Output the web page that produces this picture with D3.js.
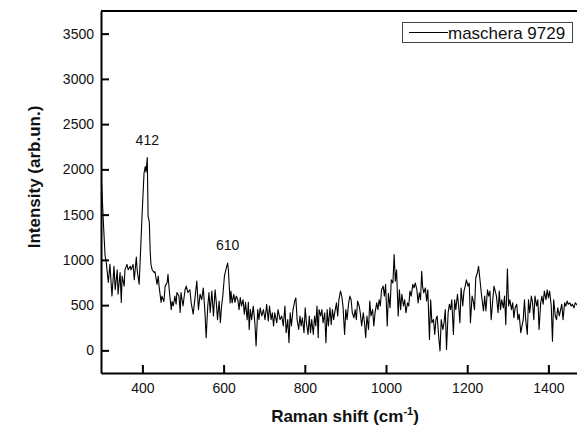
<!DOCTYPE html>
<html>
<head>
<meta charset="utf-8">
<script src="https://cdn.jsdelivr.net/npm/d3@7/dist/d3.min.js"></script>
<style>
  html, body { margin: 0; padding: 0; background: #fff; overflow: hidden; }
  svg { display: block; font-family: "Liberation Sans", Arial, sans-serif; }
</style>
</head>
<body>
<svg id="chart" width="577" height="427"></svg>
<script>
// Raman spectrum, sample "maschera 9729"
const seriesName = "maschera 9729";

const shift = [
  298,300,304,308,311,316,320,325,330,333,338,340,345,348,350,355,357,362,365,370,
  372,377,380,385,387,392,397,399,404,407,409,412,414,417,419,421,424,429,431,436,
  439,441,446,448,453,456,461,463,466,471,473,476,480,483,485,490,493,495,500,505,
  508,512,517,520,525,530,534,538,542,546,550,554,557,561,564,567,571,575,579,582,
  585,589,592,595,598,602,606,610,612,614,616,618,621,625,628,631,635,638,641,644,
  648,651,654,658,661,663,666,669,673,677,680,684,687,690,694,698,702,706,710,713,
  717,720,723,726,731,734,739,743,747,751,754,758,761,764,767,771,776,778,781,785,
  788,791,794,798,801,804,808,811,814,817,821,824,827,830,833,835,839,842,845,849,
  852,855,858,862,865,868,871,875,878,881,884,888,891,894,898,901,904,908,911,914,
  917,921,924,927,930,934,937,940,944,947,950,953,957,960,963,967,970,973,977,980,
  983,986,989,993,996,999,1003,1006,1010,1013,1017,1020,1023,1026,1030,1033,1036,1039,1043,1046,
  1049,1053,1056,1059,1062,1066,1069,1072,1076,1079,1082,1085,1088,1090,1093,1097,1100,1103,1107,1110,
  1113,1117,1120,1123,1126,1130,1133,1136,1140,1143,1146,1149,1153,1156,1159,1162,1166,1169,1172,1176,
  1179,1182,1185,1189,1192,1195,1198,1202,1205,1208,1212,1215,1218,1221,1225,1228,1231,1235,1240,1243,
  1246,1250,1253,1256,1259,1263,1266,1269,1272,1276,1279,1282,1285,1289,1292,1295,1299,1302,1305,1309,
  1312,1315,1318,1322,1325,1328,1332,1335,1338,1341,1344,1348,1351,1354,1358,1361,1364,1367,1371,1374,
  1377,1381,1384,1387,1390,1394,1397,1400,1403,1407,1410,1413,1417,1420,1423,1427,1430,1433,1436,1440,
  1443,1446,1449,1453,1456,1459,1463,1466,1469,1473,1477
];

const intensity = [
  1950,1800,1400,1050,970,750,950,600,930,670,890,620,860,530,820,710,890,950,890,930,
  890,950,780,1030,890,730,1260,1480,1960,2030,1970,2130,1480,1420,1110,950,890,860,870,730,
  820,710,530,600,540,710,750,840,670,450,540,490,600,510,640,600,420,640,490,670,
  710,640,670,530,400,600,765,450,620,560,690,420,140,490,640,420,655,380,670,530,
  340,545,305,490,600,820,900,965,875,700,525,655,525,620,530,600,560,450,585,490,
  560,400,530,340,530,230,450,340,490,305,50,450,340,470,380,450,340,510,325,490,
  340,415,270,415,305,450,340,380,270,490,195,340,85,415,270,450,560,580,340,230,
  380,270,360,195,470,305,175,380,195,340,175,380,270,490,140,450,380,450,305,415,
  85,450,270,470,285,450,340,450,525,380,560,655,600,490,175,450,340,525,600,560,
  415,360,450,340,545,490,400,270,415,305,140,380,230,545,380,450,270,415,525,450,
  560,490,670,710,600,730,270,630,470,780,745,1060,765,890,380,670,450,620,490,560,
  415,525,490,655,600,730,690,745,670,525,635,560,875,710,635,690,545,670,120,560,
  305,340,175,340,380,140,-5,340,230,305,450,10,415,510,450,560,175,560,450,620,
  490,305,690,490,655,710,780,710,745,305,600,545,450,800,855,930,800,620,435,600,
  435,670,600,655,340,560,710,655,600,415,655,450,560,470,600,285,900,490,560,450,
  525,360,470,510,340,400,195,270,340,560,340,175,560,415,600,525,340,600,490,560,
  230,525,600,510,655,560,670,580,655,490,100,560,380,340,470,380,450,510,340,525,
  490,545,510,525,490,510,470,525,510,490,505
];

// Axis ticks
const xTicks = [400, 600, 800, 1000, 1200, 1400];
const yTicks = [0, 500, 1000, 1500, 2000, 2500, 3000, 3500];

// Annotated band positions (cm-1) and their intensities
const peakShift = [412, 610];
const peakIntensity = [2130, 965];

const data = shift.map((s, i) => ({ s, v: intensity[i] }));

const svg = d3.select("#chart");
const plot = { left: 101, right: 589, top: 11, bottom: 373 };

const x = d3.scaleLinear().domain([298, 1500]).range([plot.left, plot.right]);
const y = d3.scaleLinear().domain([-250, 3750]).range([plot.bottom, plot.top]);

svg.append("defs").append("clipPath").attr("id", "plotclip")
  .append("rect")
  .attr("x", plot.left).attr("y", plot.top)
  .attr("width", plot.right - plot.left).attr("height", plot.bottom - plot.top);

// spectrum trace
svg.append("path")
  .datum(data)
  .attr("clip-path", "url(#plotclip)")
  .attr("fill", "none")
  .attr("stroke", "#000")
  .attr("stroke-width", 1.1)
  .attr("stroke-linejoin", "round")
  .attr("d", d3.line().x(d => x(d.s)).y(d => y(d.v)));

// frame: top and right edges
svg.append("path")
  .attr("fill", "none").attr("stroke", "#000").attr("stroke-width", 2)
  .attr("d", `M${plot.left},${plot.top}H${plot.right}V${plot.bottom}`);

// axes with inward ticks
const xAxis = svg.append("g")
  .attr("transform", `translate(0,${plot.bottom})`)
  .call(d3.axisBottom(x).tickValues(xTicks).tickFormat(d3.format("d"))
    .tickSizeInner(-8).tickSizeOuter(0).tickPadding(10));

const yAxis = svg.append("g")
  .attr("transform", `translate(${plot.left},0)`)
  .call(d3.axisLeft(y).tickValues(yTicks).tickFormat(d3.format("d"))
    .tickSizeInner(-8).tickSizeOuter(0).tickPadding(7));

[xAxis, yAxis].forEach(g => {
  g.select(".domain").attr("stroke", "#000").attr("stroke-width", 2);
  g.selectAll(".tick line").attr("stroke", "#000").attr("stroke-width", 2);
  g.selectAll(".tick text")
    .attr("fill", "#111")
    .style("font-size", "14px")
    .style("font-family", "'Liberation Sans', Arial, sans-serif");
});

// axis titles
svg.append("text")
  .attr("transform", "translate(40,177) rotate(-90)")
  .attr("text-anchor", "middle")
  .attr("fill", "#111")
  .style("font-size", "17px").style("font-weight", "bold")
  .text("Intensity (arb.un.)");

const xt = svg.append("text")
  .attr("x", 345).attr("y", 422)
  .attr("text-anchor", "middle")
  .attr("fill", "#111")
  .style("font-size", "17px").style("font-weight", "bold");
xt.append("tspan").text("Raman shift (cm");
xt.append("tspan").attr("dy", -7).style("font-size", "11px").text("-1");
xt.append("tspan").attr("dy", 7).text(")");

// band annotations
svg.selectAll("text.peak")
  .data(peakShift)
  .join("text")
  .attr("class", "peak")
  .attr("x", d => x(d))
  .attr("y", (d, i) => y(peakIntensity[i]) - 13)
  .attr("text-anchor", "middle")
  .attr("fill", "#111")
  .style("font-size", "14px")
  .text(d => d);

// legend
const lg = svg.append("g");
lg.append("rect")
  .attr("x", 402.5).attr("y", 22.5).attr("width", 170).attr("height", 20)
  .attr("fill", "#fff").attr("stroke", "#444").attr("stroke-width", 1);
lg.append("line")
  .attr("x1", 409).attr("x2", 448).attr("y1", 32.5).attr("y2", 32.5)
  .attr("stroke", "#000").attr("stroke-width", 1.1);
lg.append("text")
  .attr("x", 448).attr("y", 39)
  .attr("fill", "#111")
  .style("font-size", "17px")
  .text(seriesName);
</script>
</body>
</html>
